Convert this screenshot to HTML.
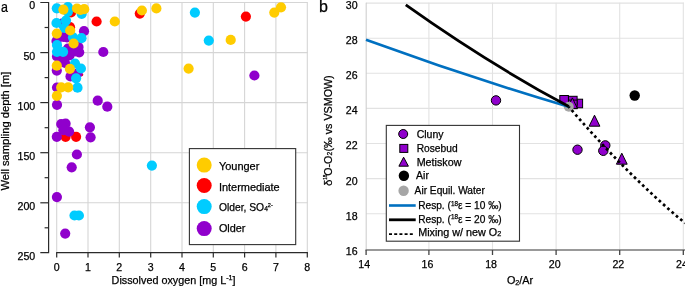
<!DOCTYPE html>
<html><head><meta charset="utf-8"><style>
html,body{margin:0;padding:0;background:#fff;}
svg{display:block;font-family:"Liberation Sans", sans-serif;will-change:transform;}
text{fill:#000;stroke:#000;stroke-width:0.25px;}
</style></head><body>
<svg width="685" height="286" viewBox="0 0 685 286">
<line x1="56.7" y1="2.5" x2="56.7" y2="252.5" stroke="#d5d5d5" stroke-width="1.1"/>
<line x1="88.0" y1="2.5" x2="88.0" y2="252.5" stroke="#d5d5d5" stroke-width="1.1"/>
<line x1="119.3" y1="2.5" x2="119.3" y2="252.5" stroke="#d5d5d5" stroke-width="1.1"/>
<line x1="150.7" y1="2.5" x2="150.7" y2="252.5" stroke="#d5d5d5" stroke-width="1.1"/>
<line x1="182.0" y1="2.5" x2="182.0" y2="252.5" stroke="#d5d5d5" stroke-width="1.1"/>
<line x1="213.3" y1="2.5" x2="213.3" y2="252.5" stroke="#d5d5d5" stroke-width="1.1"/>
<line x1="244.6" y1="2.5" x2="244.6" y2="252.5" stroke="#d5d5d5" stroke-width="1.1"/>
<line x1="275.9" y1="2.5" x2="275.9" y2="252.5" stroke="#d5d5d5" stroke-width="1.1"/>
<line x1="307.3" y1="2.5" x2="307.3" y2="252.5" stroke="#d5d5d5" stroke-width="1.1"/>
<line x1="56.2" y1="2.5" x2="307.8" y2="2.5" stroke="#d5d5d5" stroke-width="1.1"/>
<line x1="56.2" y1="52.6" x2="307.8" y2="52.6" stroke="#d5d5d5" stroke-width="1.1"/>
<line x1="56.2" y1="102.6" x2="307.8" y2="102.6" stroke="#d5d5d5" stroke-width="1.1"/>
<line x1="56.2" y1="152.7" x2="307.8" y2="152.7" stroke="#d5d5d5" stroke-width="1.1"/>
<line x1="56.2" y1="202.8" x2="307.8" y2="202.8" stroke="#d5d5d5" stroke-width="1.1"/>
<circle cx="81.9" cy="74.8" r="1.4" fill="#ff0000"/>
<circle cx="71" cy="12.5" r="5.1" fill="#ff0000"/>
<circle cx="70" cy="27.2" r="5.1" fill="#ff0000"/>
<circle cx="96.6" cy="21.5" r="5.1" fill="#ff0000"/>
<circle cx="139.8" cy="13.6" r="5.1" fill="#ff0000"/>
<circle cx="245.9" cy="16.6" r="5.1" fill="#ff0000"/>
<circle cx="68.5" cy="55" r="5.1" fill="#ff0000"/>
<circle cx="65.6" cy="136.8" r="5.1" fill="#ff0000"/>
<circle cx="76.1" cy="136.8" r="5.1" fill="#ff0000"/>
<circle cx="62" cy="23.5" r="5.1" fill="#9000cc"/>
<circle cx="84" cy="31.2" r="5.1" fill="#9000cc"/>
<circle cx="63.5" cy="37" r="5.1" fill="#9000cc"/>
<circle cx="56.5" cy="41" r="5.1" fill="#9000cc"/>
<circle cx="67" cy="37.5" r="5.1" fill="#9000cc"/>
<circle cx="68" cy="48.5" r="5.1" fill="#9000cc"/>
<circle cx="78.5" cy="47" r="5.1" fill="#9000cc"/>
<circle cx="79.2" cy="52.3" r="5.1" fill="#9000cc"/>
<circle cx="75" cy="51.5" r="5.1" fill="#9000cc"/>
<circle cx="69.5" cy="55.5" r="5.1" fill="#9000cc"/>
<circle cx="57" cy="56.5" r="5.1" fill="#9000cc"/>
<circle cx="63.5" cy="61" r="5.1" fill="#9000cc"/>
<circle cx="65" cy="63" r="5.1" fill="#9000cc"/>
<circle cx="56.8" cy="70.6" r="5.1" fill="#9000cc"/>
<circle cx="70.5" cy="76.4" r="5.1" fill="#9000cc"/>
<circle cx="77.5" cy="73.5" r="5.1" fill="#9000cc"/>
<circle cx="57" cy="87.5" r="5.1" fill="#9000cc"/>
<circle cx="57" cy="104.8" r="5.1" fill="#9000cc"/>
<circle cx="61.2" cy="124.1" r="5.1" fill="#9000cc"/>
<circle cx="65.6" cy="123.7" r="5.1" fill="#9000cc"/>
<circle cx="69.1" cy="131.6" r="5.1" fill="#9000cc"/>
<circle cx="63.4" cy="130.2" r="5.1" fill="#9000cc"/>
<circle cx="56.8" cy="136.8" r="5.1" fill="#9000cc"/>
<circle cx="103.3" cy="52" r="5.1" fill="#9000cc"/>
<circle cx="97.7" cy="100.7" r="5.1" fill="#9000cc"/>
<circle cx="107.3" cy="106.7" r="5.1" fill="#9000cc"/>
<circle cx="254.4" cy="75.5" r="5.1" fill="#9000cc"/>
<circle cx="89.9" cy="127.3" r="5.1" fill="#9000cc"/>
<circle cx="90.6" cy="137.3" r="5.1" fill="#9000cc"/>
<circle cx="76.9" cy="154.5" r="5.1" fill="#9000cc"/>
<circle cx="71.7" cy="167.3" r="5.1" fill="#9000cc"/>
<circle cx="56.9" cy="197.1" r="5.1" fill="#9000cc"/>
<circle cx="65.2" cy="233.6" r="5.1" fill="#9000cc"/>
<circle cx="56.8" cy="8.3" r="5.1" fill="#00ccff"/>
<circle cx="67.9" cy="7.2" r="5.1" fill="#00ccff"/>
<circle cx="67.9" cy="11.8" r="5.1" fill="#00ccff"/>
<circle cx="81.7" cy="13.8" r="5.1" fill="#00ccff"/>
<circle cx="56.5" cy="23" r="5.1" fill="#00ccff"/>
<circle cx="66" cy="20.6" r="5.1" fill="#00ccff"/>
<circle cx="64.4" cy="28" r="5.1" fill="#00ccff"/>
<circle cx="73" cy="37.3" r="5.1" fill="#00ccff"/>
<circle cx="81.5" cy="38.2" r="5.1" fill="#00ccff"/>
<circle cx="57" cy="45" r="5.1" fill="#00ccff"/>
<circle cx="57" cy="51.8" r="5.1" fill="#00ccff"/>
<circle cx="63.1" cy="51.8" r="5.1" fill="#00ccff"/>
<circle cx="75" cy="63.5" r="5.1" fill="#00ccff"/>
<circle cx="80.9" cy="68.5" r="5.1" fill="#00ccff"/>
<circle cx="76.1" cy="78.3" r="5.1" fill="#00ccff"/>
<circle cx="77.5" cy="87.7" r="5.1" fill="#00ccff"/>
<circle cx="194.9" cy="12.6" r="5.1" fill="#00ccff"/>
<circle cx="208.8" cy="40.6" r="5.1" fill="#00ccff"/>
<circle cx="151.9" cy="165.6" r="5.1" fill="#00ccff"/>
<circle cx="74.5" cy="215.5" r="5.1" fill="#00ccff"/>
<circle cx="78.9" cy="215.5" r="5.1" fill="#00ccff"/>
<circle cx="63.4" cy="9.6" r="5.1" fill="#ffcc00"/>
<circle cx="77" cy="8.5" r="5.1" fill="#ffcc00"/>
<circle cx="80.5" cy="10" r="5.1" fill="#ffcc00"/>
<circle cx="84.2" cy="9.2" r="5.1" fill="#ffcc00"/>
<circle cx="70.2" cy="30.5" r="5.1" fill="#ffcc00"/>
<circle cx="56.8" cy="33.6" r="5.1" fill="#ffcc00"/>
<circle cx="73.6" cy="43.5" r="5.1" fill="#ffcc00"/>
<circle cx="56.8" cy="65.7" r="5.1" fill="#ffcc00"/>
<circle cx="69.9" cy="68.8" r="5.1" fill="#ffcc00"/>
<circle cx="61.2" cy="87.4" r="5.1" fill="#ffcc00"/>
<circle cx="68.2" cy="87.4" r="5.1" fill="#ffcc00"/>
<circle cx="56.9" cy="95.8" r="5.1" fill="#ffcc00"/>
<circle cx="114.8" cy="21.5" r="5.1" fill="#ffcc00"/>
<circle cx="141.9" cy="10.5" r="5.1" fill="#ffcc00"/>
<circle cx="156.4" cy="8.4" r="5.1" fill="#ffcc00"/>
<circle cx="230.7" cy="39.9" r="5.1" fill="#ffcc00"/>
<circle cx="274.3" cy="12.6" r="5.1" fill="#ffcc00"/>
<circle cx="281" cy="7.3" r="5.1" fill="#ffcc00"/>
<circle cx="188.6" cy="68.6" r="5.1" fill="#ffcc00"/>
<path d="M40.3 2.5H48.6V252.6H40.3" fill="none" stroke="#2b2b2b" stroke-width="1.2"/>
<line x1="40.3" y1="52.6" x2="48.6" y2="52.6" stroke="#2b2b2b" stroke-width="1.2"/>
<line x1="40.3" y1="102.6" x2="48.6" y2="102.6" stroke="#2b2b2b" stroke-width="1.2"/>
<line x1="40.3" y1="152.7" x2="48.6" y2="152.7" stroke="#2b2b2b" stroke-width="1.2"/>
<line x1="40.3" y1="202.8" x2="48.6" y2="202.8" stroke="#2b2b2b" stroke-width="1.2"/>
<line x1="44.6" y1="27.5" x2="48.6" y2="27.5" stroke="#2b2b2b" stroke-width="1.2"/>
<line x1="44.6" y1="77.6" x2="48.6" y2="77.6" stroke="#2b2b2b" stroke-width="1.2"/>
<line x1="44.6" y1="127.7" x2="48.6" y2="127.7" stroke="#2b2b2b" stroke-width="1.2"/>
<line x1="44.6" y1="177.7" x2="48.6" y2="177.7" stroke="#2b2b2b" stroke-width="1.2"/>
<line x1="44.6" y1="227.8" x2="48.6" y2="227.8" stroke="#2b2b2b" stroke-width="1.2"/>
<line x1="56.2" y1="252.6" x2="307.9" y2="252.6" stroke="#2b2b2b" stroke-width="1.2"/>
<line x1="56.7" y1="252.6" x2="56.7" y2="257.5" stroke="#2b2b2b" stroke-width="1.2"/>
<line x1="88.0" y1="252.6" x2="88.0" y2="257.5" stroke="#2b2b2b" stroke-width="1.2"/>
<line x1="119.3" y1="252.6" x2="119.3" y2="257.5" stroke="#2b2b2b" stroke-width="1.2"/>
<line x1="150.7" y1="252.6" x2="150.7" y2="257.5" stroke="#2b2b2b" stroke-width="1.2"/>
<line x1="182.0" y1="252.6" x2="182.0" y2="257.5" stroke="#2b2b2b" stroke-width="1.2"/>
<line x1="213.3" y1="252.6" x2="213.3" y2="257.5" stroke="#2b2b2b" stroke-width="1.2"/>
<line x1="244.6" y1="252.6" x2="244.6" y2="257.5" stroke="#2b2b2b" stroke-width="1.2"/>
<line x1="275.9" y1="252.6" x2="275.9" y2="257.5" stroke="#2b2b2b" stroke-width="1.2"/>
<line x1="307.3" y1="252.6" x2="307.3" y2="257.5" stroke="#2b2b2b" stroke-width="1.2"/>
<text x="35.2" y="9.4" text-anchor="end" font-size="10.6">0</text>
<text x="35.2" y="59.5" text-anchor="end" font-size="10.6">50</text>
<text x="35.2" y="109.5" text-anchor="end" font-size="10.6">100</text>
<text x="35.2" y="159.6" text-anchor="end" font-size="10.6">150</text>
<text x="35.2" y="209.7" text-anchor="end" font-size="10.6">200</text>
<text x="35.2" y="259.7" text-anchor="end" font-size="10.6">250</text>
<text x="56.7" y="270.6" text-anchor="middle" font-size="10.6">0</text>
<text x="88.0" y="270.6" text-anchor="middle" font-size="10.6">1</text>
<text x="119.3" y="270.6" text-anchor="middle" font-size="10.6">2</text>
<text x="150.7" y="270.6" text-anchor="middle" font-size="10.6">3</text>
<text x="182.0" y="270.6" text-anchor="middle" font-size="10.6">4</text>
<text x="213.3" y="270.6" text-anchor="middle" font-size="10.6">5</text>
<text x="244.6" y="270.6" text-anchor="middle" font-size="10.6">6</text>
<text x="275.9" y="270.6" text-anchor="middle" font-size="10.6">7</text>
<text x="307.3" y="270.6" text-anchor="middle" font-size="10.6">8</text>
<text x="111.6" y="283.5" font-size="10.6" textLength="124" lengthAdjust="spacingAndGlyphs">Dissolved oxygen [mg L<tspan font-size="7" dy="-4">-1</tspan><tspan dy="4">]</tspan></text>
<text transform="translate(8.7,190.6) rotate(-90)" x="0" y="0" font-size="10.6" textLength="118.9" lengthAdjust="spacingAndGlyphs">Well sampling depth [m]</text>
<text transform="translate(0.9,11.5) scale(0.81,1)" font-size="15.4">a</text>
<rect x="189.4" y="148.6" width="106.3" height="96" fill="#fff" stroke="#333" stroke-width="1.1"/>
<circle cx="204.2" cy="165.1" r="7.5" fill="#ffcc00"/>
<text x="218.9" y="170.4" font-size="11.1" textLength="40.5" lengthAdjust="spacingAndGlyphs">Younger</text>
<circle cx="204.2" cy="185.5" r="7.5" fill="#ff0000"/>
<text x="218.9" y="190.6" font-size="11.1" textLength="60.8" lengthAdjust="spacingAndGlyphs">Intermediate</text>
<circle cx="204.2" cy="206.6" r="7.5" fill="#00ccff"/>
<text x="218.9" y="210.9" font-size="11.1" textLength="53.9" lengthAdjust="spacingAndGlyphs">Older, SO<tspan font-size="7.2">4</tspan><tspan font-size="6" dy="-4.2">2-</tspan></text>
<circle cx="204.2" cy="228.6" r="7.5" fill="#9000cc"/>
<text x="218.9" y="232.3" font-size="11.1" textLength="26.6" lengthAdjust="spacingAndGlyphs">Older</text>
<line x1="428.9" y1="2.7" x2="428.9" y2="250" stroke="#e2e2e2" stroke-width="1.1"/>
<line x1="492.5" y1="2.7" x2="492.5" y2="250" stroke="#e2e2e2" stroke-width="1.1"/>
<line x1="556.1" y1="2.7" x2="556.1" y2="250" stroke="#e2e2e2" stroke-width="1.1"/>
<line x1="619.7" y1="2.7" x2="619.7" y2="250" stroke="#e2e2e2" stroke-width="1.1"/>
<line x1="683.3" y1="2.7" x2="683.3" y2="250" stroke="#e2e2e2" stroke-width="1.1"/>
<line x1="366" y1="213.7" x2="684" y2="213.7" stroke="#e2e2e2" stroke-width="1.1"/>
<line x1="366" y1="178.6" x2="684" y2="178.6" stroke="#e2e2e2" stroke-width="1.1"/>
<line x1="366" y1="143.5" x2="684" y2="143.5" stroke="#e2e2e2" stroke-width="1.1"/>
<line x1="366" y1="108.4" x2="684" y2="108.4" stroke="#e2e2e2" stroke-width="1.1"/>
<line x1="366" y1="73.3" x2="684" y2="73.3" stroke="#e2e2e2" stroke-width="1.1"/>
<line x1="366" y1="38.2" x2="684" y2="38.2" stroke="#e2e2e2" stroke-width="1.1"/>
<line x1="366" y1="3.1" x2="684" y2="3.1" stroke="#e2e2e2" stroke-width="1.1"/>
<line x1="366.2" y1="2.7" x2="366.2" y2="250" stroke="#cfcfcf" stroke-width="1.1"/>
<line x1="365.5" y1="250" x2="685" y2="250" stroke="#777" stroke-width="1.4"/>
<line x1="366.1" y1="250" x2="366.1" y2="255" stroke="#444" stroke-width="1.3"/>
<line x1="428.9" y1="250" x2="428.9" y2="255" stroke="#444" stroke-width="1.3"/>
<line x1="492.5" y1="250" x2="492.5" y2="255" stroke="#444" stroke-width="1.3"/>
<line x1="556.1" y1="250" x2="556.1" y2="255" stroke="#444" stroke-width="1.3"/>
<line x1="619.7" y1="250" x2="619.7" y2="255" stroke="#444" stroke-width="1.3"/>
<line x1="683.3" y1="250" x2="683.3" y2="255" stroke="#444" stroke-width="1.3"/>
<text x="357.6" y="254.7" text-anchor="end" font-size="10.6">16</text>
<text x="357.6" y="219.6" text-anchor="end" font-size="10.6">18</text>
<text x="357.6" y="184.5" text-anchor="end" font-size="10.6">20</text>
<text x="357.6" y="149.4" text-anchor="end" font-size="10.6">22</text>
<text x="357.6" y="114.3" text-anchor="end" font-size="10.6">24</text>
<text x="357.6" y="79.2" text-anchor="end" font-size="10.6">26</text>
<text x="357.6" y="44.1" text-anchor="end" font-size="10.6">28</text>
<text x="357.6" y="9.0" text-anchor="end" font-size="10.6">30</text>
<text x="364.2" y="267.6" text-anchor="middle" font-size="10.6">14</text>
<text x="427.5" y="267.6" text-anchor="middle" font-size="10.6">16</text>
<text x="491.1" y="267.6" text-anchor="middle" font-size="10.6">18</text>
<text x="554.7" y="267.6" text-anchor="middle" font-size="10.6">20</text>
<text x="618.3" y="267.6" text-anchor="middle" font-size="10.6">22</text>
<text x="681.9" y="267.6" text-anchor="middle" font-size="10.6">24</text>
<text x="506.9" y="283.6" font-size="10.6" textLength="26.3" lengthAdjust="spacingAndGlyphs">O<tspan font-size="7" dy="1">2</tspan><tspan dy="-1">/Ar</tspan></text>
<g transform="translate(331.6,185.9) rotate(-90)"><text x="-0.2" y="0" font-size="11.6">δ</text><text x="6.1" y="-4.6" font-size="4.6">18</text><text x="10.1" y="0" font-size="10.4" textLength="20" lengthAdjust="spacingAndGlyphs">O-O</text><text x="30.3" y="0" font-size="6.6">2</text><text x="34.4" y="0" font-size="10.4" textLength="76.2" lengthAdjust="spacingAndGlyphs">(‰ vs VSMOW)</text></g>
<text x="319" y="11.7" font-size="16">b</text>
<circle cx="496" cy="100.4" r="4.7" fill="#9000cc" stroke="#000" stroke-width="1"/>
<circle cx="577.5" cy="149.7" r="4.7" fill="#9000cc" stroke="#000" stroke-width="1"/>
<circle cx="605.3" cy="145.4" r="4.7" fill="#9000cc" stroke="#000" stroke-width="1"/>
<circle cx="603.3" cy="150.8" r="4.7" fill="#9000cc" stroke="#000" stroke-width="1"/>
<rect x="559.8" y="95.5" width="8.6" height="8.6" fill="#9000cc" stroke="#000" stroke-width="1"/>
<rect x="574.0" y="99.2" width="8.6" height="8.6" fill="#9000cc" stroke="#000" stroke-width="1"/>
<rect x="568.5" y="96.3" width="8.6" height="8.6" fill="#9000cc" stroke="#000" stroke-width="1"/>
<rect x="568.5" y="100.1" width="8.6" height="8.6" fill="#9000cc" stroke="#000" stroke-width="1"/>
<path d="M572.4 97.9L577.4 108.4L567.4 108.4Z" fill="#9000cc" stroke="#000" stroke-width="1"/>
<path d="M594.5 115.2L599.9 126.2L589.1 126.2Z" fill="#9000cc" stroke="#000" stroke-width="1"/>
<path d="M621.8 153.2L627.2 164.2L616.4 164.2Z" fill="#9000cc" stroke="#000" stroke-width="1"/>
<circle cx="634.7" cy="95.5" r="5.2" fill="#000" stroke="none" stroke-width="1"/>
<circle cx="568.8" cy="106.8" r="5" fill="#a6a6a6" stroke="none" stroke-width="1"/>
<path d="M366.0 39.7Q467.4 76.8 568.8 106.8" fill="none" stroke="#0070c0" stroke-width="2.6"/>
<path d="M405.8 4.9Q487.3 62.9 568.8 106.6" fill="none" stroke="#000" stroke-width="2.8"/>
<path d="M568.8 106.8Q626.9 174.6 685 223.1" fill="none" stroke="#000" stroke-width="2.7" stroke-dasharray="2.7 3.0" stroke-dashoffset="1.35"/>
<rect x="386.3" y="125.4" width="133.2" height="115.8" fill="#fff" stroke="#333" stroke-width="1.1"/>
<circle cx="403.2" cy="134" r="4.5" fill="#9000cc" stroke="#000" stroke-width="1"/>
<rect x="399.8" y="144.4" width="8" height="8" fill="#9000cc" stroke="#000" stroke-width="1"/>
<path d="M403.6 157.2L408.4 166.2L398.9 166.2Z" fill="#9000cc" stroke="#000" stroke-width="1"/>
<circle cx="403.9" cy="175.7" r="5.2" fill="#000" stroke="none" stroke-width="1"/>
<circle cx="403.6" cy="190.8" r="5.2" fill="#a6a6a6" stroke="none" stroke-width="1"/>
<line x1="389" y1="205.5" x2="415.7" y2="205.5" stroke="#0070c0" stroke-width="2.6"/>
<line x1="389" y1="219.8" x2="415.7" y2="219.8" stroke="#000" stroke-width="2.8"/>
<line x1="389" y1="234.1" x2="415" y2="234.1" stroke="#000" stroke-width="1.6" stroke-dasharray="3 2.2"/>
<text x="416.7" y="137.6" font-size="10.4" textLength="26.9" lengthAdjust="spacingAndGlyphs">Cluny</text>
<text x="416.7" y="151.7" font-size="10.4" textLength="40.9" lengthAdjust="spacingAndGlyphs">Rosebud</text>
<text x="416.7" y="165.5" font-size="10.4" textLength="44.7" lengthAdjust="spacingAndGlyphs">Metiskow</text>
<text x="416.1" y="179.2" font-size="10.4" textLength="12.8" lengthAdjust="spacingAndGlyphs">Air</text>
<text x="414.6" y="194" font-size="10.4" textLength="70.3" lengthAdjust="spacingAndGlyphs">Air Equil. Water</text>
<text x="418.2" y="209.3" font-size="10.4" textLength="83.5" lengthAdjust="spacingAndGlyphs">Resp. (<tspan font-size="6.5" dy="-3.8">18</tspan><tspan dy="3.8">ε = 10 ‰)</tspan></text>
<text x="418.2" y="222.9" font-size="10.4" textLength="83.5" lengthAdjust="spacingAndGlyphs">Resp. (<tspan font-size="6.5" dy="-3.8">18</tspan><tspan dy="3.8">ε = 20 ‰)</tspan></text>
<text x="418.2" y="235.5" font-size="10.4" textLength="83.1" lengthAdjust="spacingAndGlyphs">Mixing w/ new O<tspan font-size="7">2</tspan></text>
</svg>
</body></html>
